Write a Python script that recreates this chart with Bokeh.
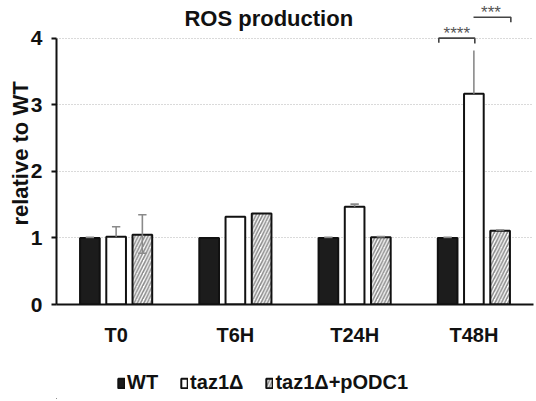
from bokeh.plotting import figure
from bokeh.layouts import column
from bokeh.models import (Range1d, FixedTicker, Label, Legend, LegendItem, ColumnDataSource)
from bokeh.embed import file_html
from bokeh.resources import INLINE

# ---- data ----
groups = ["T0", "T6H", "T24H", "T48H"]
series = ["WT", "taz1Δ", "taz1Δ+pODC1"]
wt = [1.0, 1.0, 1.0, 1.0]
taz1 = [1.02, 1.32, 1.47, 3.17]
odc1 = [1.05, 1.37, 1.01, 1.11]
wt_err = [0.01, 0.0, 0.01, 0.01]
taz1_err_up = [0.15, 0.0, 0.04, 0.65]
odc1_err_up = [0.30, 0.0, 0.01, 0.01]
odc1_err_down = [0.28, 0.0, 0.0, 0.0]
y_ticks = [0, 1, 2, 3, 4]
sig_labels = ["****", "***"]

FONT = "Liberation Sans"

centers = [i + 0.5 for i in range(len(groups))]
offs = [-0.22, 0.0, 0.22]
bw = 0.165

p = figure(width=534, height=355, output_backend="svg", toolbar_location=None,
           x_range=Range1d(0, 4), y_range=Range1d(0, 4.541),
           min_border_left=56, min_border_right=1, min_border_top=2, min_border_bottom=51)
p.outline_line_color = None
p.background_fill_color = "white"
p.border_fill_color = "white"

# grid
p.xgrid.visible = False
p.ygrid.ticker = FixedTicker(ticks=[1, 2, 3, 4])
p.ygrid.grid_line_color = "#b5b5b5"
p.ygrid.grid_line_dash = "1 2"
p.ygrid.grid_line_width = 1

# bars
vals = [wt, taz1, odc1]
fills = ["#1c1c1c", "white", "white"]
hatches = [" ", " ", "/"]
bar_style = dict(line_color="#111111", line_width=2, hatch_color="#8a8a8a",
                 hatch_scale=6.5, hatch_weight=1.6)
for k in range(3):
    src = ColumnDataSource(dict(x=[c + offs[k] for c in centers], top=vals[k]))
    p.vbar(x="x", top="top", width=bw, source=src, fill_color=fills[k],
           hatch_pattern=hatches[k], **bar_style)

# error bars
cap = 0.035
def whisk(xs, tops, up, down, color):
    x0, y0, x1, y1 = [], [], [], []
    for x, t, u, d in zip(xs, tops, up, down):
        if u > 0:
            x0.append(x); y0.append(t); x1.append(x); y1.append(t + u)
            if u < 0.3 or d > 0:
                x0.append(x - cap); y0.append(t + u); x1.append(x + cap); y1.append(t + u)
        if d > 0:
            x0.append(x); y0.append(t); x1.append(x); y1.append(t - d)
            x0.append(x - cap); y0.append(t - d); x1.append(x + cap); y1.append(t - d)
    p.segment(x0=x0, y0=y0, x1=x1, y1=y1, line_color=color, line_width=1.6)

whisk([c + offs[0] for c in centers], wt, wt_err, [0]*4, "#8a8a8a")
whisk([c + offs[1] for c in centers], taz1, taz1_err_up, [0]*4, "#8a8a8a")
whisk([c + offs[2] for c in centers], odc1, odc1_err_up, odc1_err_down, "#8a8a8a")

# significance brackets
g = centers[3]
b1 = [g - 0.294, g + 0.008, 4.005, 3.935, 3.925]
b2 = [g - 0.003, g + 0.31, 4.32, 4.245]
p.line(x=[b1[0], b1[0], b1[1], b1[1]], y=[b1[3], b1[2], b1[2], b1[4]],
       line_color="#444444", line_width=1.6)
p.line(x=[b2[0], b2[1], b2[1]], y=[b2[2], b2[2], b2[3]],
       line_color="#444444", line_width=1.6)
p.add_layout(Label(x=(b1[0] + b1[1]) / 2, y=4.075, text=sig_labels[0], text_align="center",
                   text_baseline="alphabetic", text_font=FONT, text_font_size="17px",
                   text_color="#555555"))
p.add_layout(Label(x=(b2[0] + b2[1]) / 2 - 0.01, y=4.385, text=sig_labels[1], text_align="center",
                   text_baseline="alphabetic", text_font=FONT, text_font_size="17px",
                   text_color="#555555"))

# axes
ya = p.yaxis[0]
ya.ticker = FixedTicker(ticks=y_ticks)
ya.bounds = (0, 4)
ya.axis_line_width = 2
ya.axis_line_color = "#111111"
ya.major_tick_line_width = 2
ya.major_tick_line_color = "#111111"
ya.major_tick_out = 5
ya.major_tick_in = 0
ya.minor_tick_line_color = None
ya.major_label_standoff = 9
ya.major_label_text_font = FONT
ya.major_label_text_font_style = "bold"
ya.major_label_text_font_size = "21px"
ya.major_label_text_color = "#111111"
ya.axis_label = "relative to WT"
ya.axis_label_standoff = -5
ya.axis_label_text_font = FONT
ya.axis_label_text_font_style = "bold"
ya.axis_label_text_font_size = "22px"
ya.axis_label_text_color = "#111111"

xa = p.xaxis[0]
xa.ticker = FixedTicker(ticks=centers)
xa.major_label_overrides = {c: gname for c, gname in zip(centers, groups)}
xa.axis_line_width = 2
xa.axis_line_color = "#111111"
xa.major_tick_line_color = None
xa.minor_tick_line_color = None
xa.major_label_standoff = 13
xa.major_label_text_font = FONT
xa.major_label_text_font_style = "bold"
xa.major_label_text_font_size = "20px"
xa.major_label_text_color = "#111111"

# title (inside the frame area, at the top)
p.add_layout(Label(x=1.78, y=4.30, text="ROS production", text_align="center",
                   text_baseline="alphabetic", text_font=FONT, text_font_style="bold",
                   text_font_size="22px", text_color="#111111"))

# legend strip below the chart
q = figure(width=534, height=44, output_backend="svg", toolbar_location=None,
           x_range=Range1d(0, 534), y_range=Range1d(0, 44),
           x_axis_location=None, y_axis_location=None,
           min_border_left=0, min_border_right=0, min_border_top=0, min_border_bottom=0)
q.outline_line_color = None
q.grid.visible = False
leg_r = []
for k in range(3):
    r = q.vbar(x=[-5000], bottom=[-5000], top=[-4999], width=1, fill_color=fills[k],
               hatch_pattern=hatches[k], **bar_style)
    leg_r.append(r)
lg = Legend(items=[LegendItem(label=series[k], renderers=[leg_r[k]]) for k in range(3)],
            location=(61, 5), orientation="horizontal",
            glyph_width=8, glyph_height=12, label_standoff=2, spacing=22,
            padding=0, margin=0, border_line_color=None, background_fill_alpha=0,
            label_text_font=FONT, label_text_font_style="bold",
            label_text_font_size="20px", label_text_color="#111111")
q.add_layout(lg)

layout = column(p, q, spacing=0)
open("out.html", "w").write(file_html(layout, INLINE))
